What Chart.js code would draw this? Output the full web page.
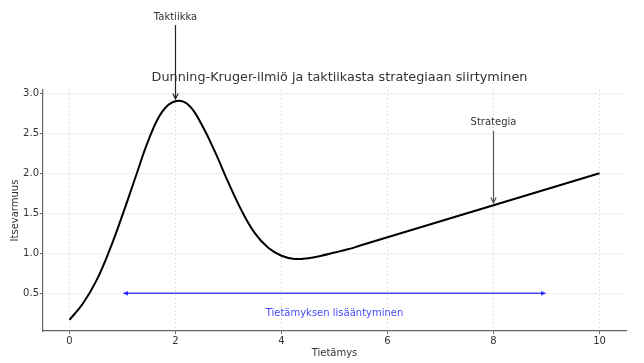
<!DOCTYPE html>
<html>
<meta charset="UTF-8">
<script src="https://cdn.jsdelivr.net/npm/chart.js"></script>
<head>
    <title>Dunning-Kruger</title>
    <style>
        body { margin: 0; background: #fff; }
    </style>
</head>
<body>
<canvas id="chart" width="644" height="363"></canvas>
<script>
    // tietämys (x) ja itsevarmuus (y), luettu kuvasta
    const xs = [0, 0.25, 0.5, 0.75, 1.0, 1.25, 1.5, 1.75, 2.0, 2.25, 2.5, 2.75,
        3.0, 3.25, 3.5, 3.75, 4.0, 4.25, 4.5, 4.75, 5.0, 5.25, 5.5, 5.75,
        6.0, 6.25, 6.5, 6.75, 7.0, 7.25, 7.5, 7.75, 8.0, 8.25, 8.5, 8.75,
        9.0, 9.25, 9.5, 9.75, 10.0];
    const ys = [0.17, 0.37, 0.65, 1.03, 1.48, 1.96, 2.43, 2.77, 2.90, 2.85, 2.60, 2.26,
        1.88, 1.53, 1.25, 1.07, 0.97, 0.93, 0.94, 0.97, 1.01, 1.05, 1.10, 1.15,
        1.20, 1.25, 1.30, 1.35, 1.40, 1.45, 1.50, 1.55, 1.60, 1.65, 1.70, 1.75,
        1.80, 1.85, 1.90, 1.95, 2.00];

    const xTicks = [0, 2, 4, 6, 8, 10];
    const yTicks = [0.5, 1.0, 1.5, 2.0, 2.5, 3.0];

    const titleText = 'Dunning-Kruger-ilmiö ja taktiikasta strategiaan siirtyminen';

    // nuolet ja tekstit (datakoordinaateissa)
    const notes = [
        { text: 'Taktiikka', tx: 2, ty: 3.95, from: [2, 3.85], to: [2, 2.93], color: '#222' },
        { text: 'Strategia', tx: 8, ty: 2.64, from: [8, 2.53], to: [8, 1.63], color: '#555' }
    ];
    const growth = { text: 'Tietämyksen lisääntyminen', x1: 1, x2: 9, y: 0.5, tx: 5, ty: 0.25 };

    const FONT = '"DejaVu Sans", sans-serif';

    function openHead(ctx, x, y, ang, size) {
        ctx.beginPath();
        ctx.moveTo(x - size * Math.cos(ang - 0.45), y - size * Math.sin(ang - 0.45));
        ctx.lineTo(x, y);
        ctx.lineTo(x - size * Math.cos(ang + 0.45), y - size * Math.sin(ang + 0.45));
        ctx.stroke();
    }

    function filledHead(ctx, x, y, ang, size) {
        ctx.beginPath();
        ctx.moveTo(x, y);
        ctx.lineTo(x - size * Math.cos(ang - 0.4), y - size * Math.sin(ang - 0.4));
        ctx.lineTo(x - size * Math.cos(ang + 0.4), y - size * Math.sin(ang + 0.4));
        ctx.closePath();
        ctx.fill();
    }

    const notesPlugin = {
        id: 'notes',
        afterDraw(chart) {
            const ctx = chart.ctx;
            const sx = chart.scales.x, sy = chart.scales.y;
            const area = chart.chartArea;
            ctx.save();

            // otsikko keskitetään kuvaajan alueen yläpuolelle
            ctx.font = '12.8px ' + FONT;
            ctx.fillStyle = '#333';
            ctx.textAlign = 'center';
            ctx.textBaseline = 'middle';
            ctx.fillText(titleText, (area.left + area.right) / 2 + 5, area.top - 12);

            ctx.font = '10px ' + FONT;
            notes.forEach(n => {
                const x1 = sx.getPixelForValue(n.from[0]), y1 = sy.getPixelForValue(n.from[1]);
                const x2 = sx.getPixelForValue(n.to[0]), y2 = sy.getPixelForValue(n.to[1]);
                ctx.strokeStyle = n.color;
                ctx.lineWidth = 1.2;
                ctx.beginPath();
                ctx.moveTo(x1, y1);
                ctx.lineTo(x2, y2);
                ctx.stroke();
                openHead(ctx, x2, y2, Math.atan2(y2 - y1, x2 - x1), 6);
                ctx.fillStyle = '#333';
                ctx.fillText(n.text, sx.getPixelForValue(n.tx), sy.getPixelForValue(n.ty));
            });

            // sininen kaksoisnuoli
            const blue = 'rgba(0, 0, 255, 0.7)';
            const bx1 = sx.getPixelForValue(growth.x1), bx2 = sx.getPixelForValue(growth.x2);
            const by = sy.getPixelForValue(growth.y);
            ctx.strokeStyle = blue;
            ctx.fillStyle = blue;
            ctx.lineWidth = 1.5;
            ctx.beginPath();
            ctx.moveTo(bx1 + 3, by);
            ctx.lineTo(bx2 - 3, by);
            ctx.stroke();
            filledHead(ctx, bx2, by, 0, 6);
            filledHead(ctx, bx1, by, Math.PI, 6);
            ctx.fillStyle = 'rgba(0, 0, 255, 0.75)';
            ctx.fillText(growth.text, sx.getPixelForValue(growth.tx), sy.getPixelForValue(growth.ty));
            ctx.restore();
        }
    };

    const ctx = document.getElementById('chart').getContext('2d');
    new Chart(ctx, {
        type: 'line',
        data: {
            datasets: [{
                data: xs.map((x, i) => ({ x: x, y: ys[i] })),
                borderColor: '#000',
                borderWidth: 2,
                pointRadius: 0,
                tension: 0.4,
                fill: false
            }]
        },
        options: {
            responsive: false,
            animation: false,
            layout: { padding: { top: 90, right: 18, left: 0, bottom: 0 } },
            plugins: {
                legend: { display: false },
                tooltip: { enabled: false },
                title: { display: false }
            },
            scales: {
                x: {
                    type: 'linear',
                    min: -0.5,
                    max: 10.5,
                    afterFit: s => { s.height = 32; },
                    afterBuildTicks: s => { s.ticks = xTicks.map(v => ({ value: v })); },
                    grid: { color: '#e2e2e2', tickColor: '#666', tickLength: 3, tickBorderDash: [] },
                    border: { display: true, color: '#666', width: 1.2, dash: [2, 2] },
                    ticks: { color: '#333', font: { family: FONT, size: 10 }, padding: 1, maxRotation: 0 },
                    title: { display: true, text: 'Tietämys', color: '#333', font: { family: FONT, size: 10 }, padding: { top: 0, bottom: 4 } }
                },
                y: {
                    min: 0.03,
                    max: 3.04,
                    afterFit: s => { s.width = 43; },
                    afterBuildTicks: s => { s.ticks = yTicks.map(v => ({ value: v })); },
                    grid: { color: '#e2e2e2', tickColor: '#666', tickLength: 3, tickBorderDash: [] },
                    border: { display: true, color: '#666', width: 1.2, dash: [2, 2] },
                    ticks: { color: '#333', font: { family: FONT, size: 10 }, padding: 1, callback: v => v.toFixed(1) },
                    title: { display: true, text: 'Itsevarmuus', color: '#333', font: { family: FONT, size: 10 }, padding: { top: 9, bottom: 0 } }
                }
            }
        },
        plugins: [notesPlugin]
    });
</script>
</body>
</html>
